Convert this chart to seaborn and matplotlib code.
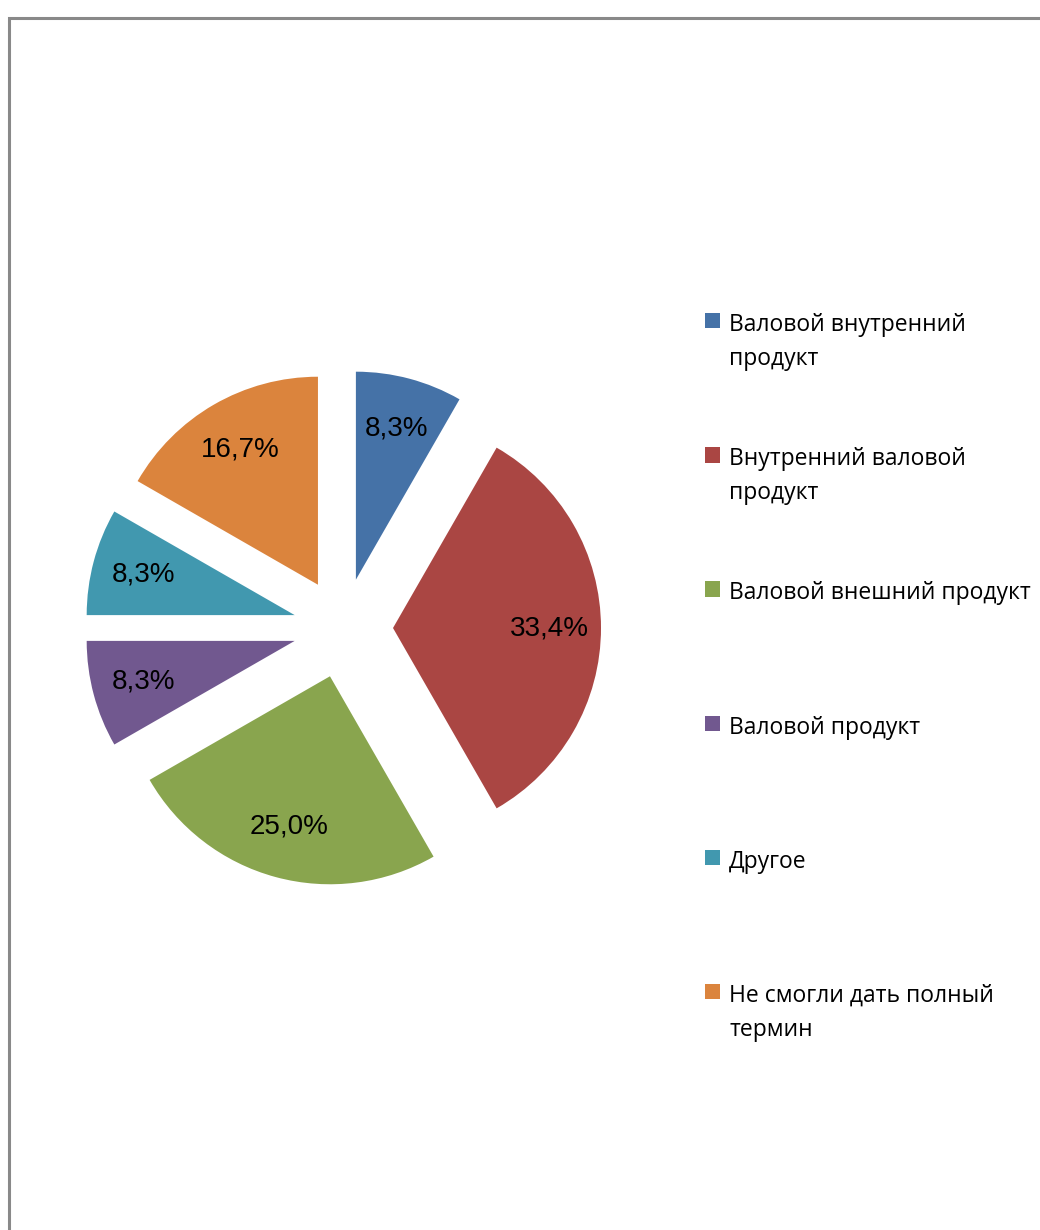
import matplotlib
matplotlib.use("Agg")
import matplotlib.pyplot as plt
import seaborn as sns
from matplotlib.patches import Rectangle

categories = [
    "Валовой внутренний\nпродукт",
    "Внутренний валовой\nпродукт",
    "Валовой внешний продукт\n ",
    "Валовой продукт\n ",
    "Другое\n ",
    "Не смогли дать полный\nтермин",
]
values = [8.3, 33.4, 25.0, 8.3, 8.3, 16.7]
colors = ["#4572A7", "#AA4643", "#89A54E", "#71588F", "#4198AF", "#DB843D"]

sns.set_theme(style="white")
plt.rcParams["font.family"] = ["Liberation Sans", "DejaVu Sans"]

W, H = 1040, 1230
fig = plt.figure(figsize=(W / 100, H / 100), dpi=100)
fig.patch.set_facecolor("white")

# outer frame (left and top visible)
fig.add_artist(Rectangle((8.5 / W, -0.1), 1.2, (H - 17.5) / H + 0.1,
                         transform=fig.transFigure, fill=False,
                         edgecolor="#898989", linewidth=2.2))

ax = fig.add_axes([0, 0, 1, 1])
wedges, texts, autotexts = ax.pie(
    values,
    colors=colors,
    startangle=90,
    counterclock=False,
    explode=[50] * len(values),
    radius=208,
    center=(343, H - 628),
    autopct=lambda p: f"{p:.1f}%".replace(".", ","),
    pctdistance=0.75,
    wedgeprops=dict(linewidth=0),
    textprops=dict(fontsize=20, color="black", family=["Liberation Sans"]),
)
ax.set_xlim(0, W)
ax.set_ylim(0, H)
ax.set_aspect("equal")
ax.axis("off")

leg = fig.legend(
    wedges, categories,
    loc="upper left",
    bbox_to_anchor=(705 / W, 1 - 313 / H),
    bbox_transform=fig.transFigure,
    frameon=False,
    borderpad=0,
    borderaxespad=0,
    handlelength=0.65,
    handleheight=0.65,
    handletextpad=0.4,
    labelspacing=3.33,
    prop=dict(family=["Open Sans", "DejaVu Sans"], size=16.5),
)
for t in leg.get_texts():
    t.set_linespacing(1.55)
    t.set_color("black")
# align the colour squares with the first line of each label
for col in leg._legend_handle_box.get_children():
    for item in col.get_children():
        item.align = "top"

fig.savefig("out.png", dpi=100, facecolor="white")
